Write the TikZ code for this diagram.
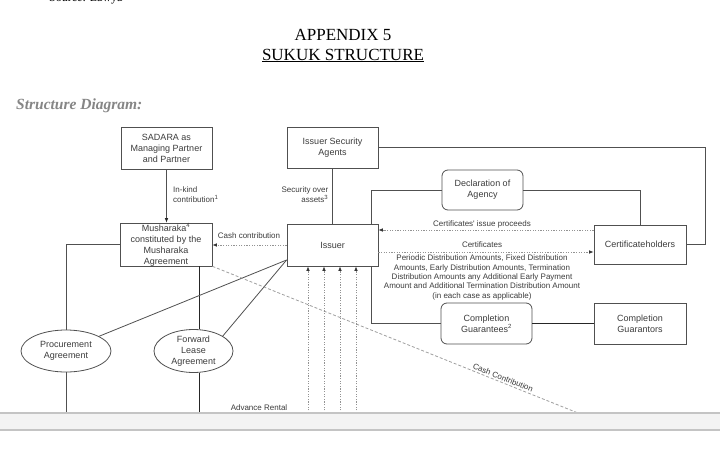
\documentclass[tikz,border=0pt]{standalone}
\usepackage{fontspec}
\setmainfont{Liberation Serif}
\newfontfamily\arialf{Liberation Sans}
\usetikzlibrary{arrows.meta,shapes.geometric}
\definecolor{lc}{HTML}{505050}
\definecolor{tc}{HTML}{3C3C3C}
\definecolor{bandfill}{HTML}{F3F3F3}
\definecolor{bandline}{HTML}{C4C4C4}
\begin{document}
\begin{tikzpicture}[x=1pt,y=-1pt,
  box/.style={draw=lc, line width=0.8pt, align=center, font=\arialf\fontsize{9}{11}\selectfont, text=tc, inner sep=0pt, fill=white},
  rbox/.style={box, rounded corners=6pt},
  oval/.style={box, ellipse},
  lbl/.style={font=\arialf\fontsize{8}{9.3}\selectfont, text=tc, inner sep=0pt},
  conn/.style={draw=lc, line width=0.8pt},
  thickc/.style={draw=black!85, line width=1.7pt},
  dotarr/.style={draw=gray!85, line width=0.7pt, dash pattern=on 1.2pt off 1.4pt, -{Latex[length=4.5pt,width=3.6pt,color=black!80]}},
  solarr/.style={conn, -{Latex[length=4.5pt,width=3.6pt,color=black!85]}},
  dashc/.style={draw=gray!75, line width=0.8pt, dash pattern=on 3pt off 2pt},
]
\useasboundingbox (0,0) rectangle (720,460);
\fill[white] (0,0) rectangle (720,460);

% header texts
\node[anchor=base west, font=\fontsize{12}{14}\selectfont, inner sep=0] (src) at (49,2) {Source: Lawya};
\node[anchor=base, font=\fontsize{17}{20}\selectfont, inner sep=0] (app) at (343,41) {APPENDIX 5};
\node[anchor=base, font=\fontsize{17}{20}\selectfont, inner sep=0] (suk) at (343,60) {\underline{SUKUK STRUCTURE}};
\node[anchor=base west, font=\fontsize{15.5}{18}\selectfont\bfseries\itshape, text=gray!95, inner sep=0] (sd) at (16,110) {Structure Diagram:};

% nodes
\node[box, minimum width=91pt, minimum height=42pt] (sadara) at (166.5,148) {SADARA as\\Managing Partner\\and Partner};
\node[box, minimum width=91pt, minimum height=41pt] (isa) at (332.5,147.5) {Issuer Security\\Agents};
\node[rbox, minimum width=81pt, minimum height=40pt] (decl) at (482.5,190) {Declaration of\\Agency};
\node[box, minimum width=92pt, minimum height=41pt] (mush) at (166,244.5) {Musharaka\textsuperscript{4}\\constituted by the\\Musharaka\\Agreement};
\node[box, minimum width=91pt, minimum height=42pt] (issuer) at (332.5,245) {Issuer};
\node[box, minimum width=92pt, minimum height=39pt] (cert) at (640,244.5) {Certificateholders};
\node[rbox, minimum width=91pt, minimum height=41pt] (cguar) at (486.5,323.5) {Completion\\Guarantees\textsuperscript{2}};
\node[box, minimum width=92pt, minimum height=41pt] (cgrs) at (640,323.5) {Completion\\Guarantors};
\node[oval, minimum width=90pt, minimum height=42pt] (proc) at (66,351) {Procurement\\Agreement};
\node[oval, minimum width=79pt, minimum height=42pt] (fwd) at (193.5,351) {Forward\\Lease\\Agreement};

% coordinates
\coordinate (rc) at (705,147.5);
\coordinate (dl) at (371,190);
\coordinate (cgl) at (371,323.5);
\coordinate (fwdtop) at ([xshift=6pt]fwd.north);
\coordinate (fwdbot) at ([xshift=6pt]fwd.south);
\coordinate (ccend) at (578,413);
\coordinate (isl) at ([yshift=-15pt]issuer.west);

% connectors
\draw[conn] (isa.east) -- (rc) |- (cert.east);
\draw[conn] (decl.west) -- (dl) -- (dl |- issuer.north);
\draw[conn] (decl.east) -| (cert.north);
\draw[conn] (isa.south) -- (issuer.north);
\draw[solarr] (sadara.south) -- (sadara.south |- mush.north);
\draw[dotarr] (issuer.west) -- (issuer.west -| mush.east);
\draw[dotarr] ([yshift=14.5pt]cert.west) -- ([yshift=14.5pt]cert.west -| issuer.east);
\draw[dotarr] ([yshift=-7pt]issuer.east) -- ([yshift=-7pt]issuer.east -| cert.west);
\draw[conn] (issuer.south -| cgl) -- (cgl) -- (cguar.west);
\draw[thickc] (cguar.east) -- (cgrs.west);
\draw[conn] (mush.west) -| (proc.north);
\draw[conn] (proc.south) -- (proc.south |- ccend);
\draw[thickc] (mush.south -| fwdtop) -- (fwdtop);
\draw[thickc] (fwdbot) -- (fwdbot |- ccend);
\draw[conn] (isl) -- (proc.24);
\draw[conn] (isl) -- (fwd.27);
\draw[dashc] (mush.south east) -- (ccend)
  node[pos=0.79, sloped, above=1.5pt, lbl] (cclbl) {Cash Contribution};
\foreach \x in {308,324,340,356} {
  \draw[dotarr] (\x,413) -- (\x,413 |- issuer.south);
}

% labels
\node[lbl, anchor=west, align=left] (ink) at (173,194.5) {In-kind\\contribution\textsuperscript{1}};
\node[lbl, anchor=east, align=right] (soa) at (328.5,194.5) {Security over\\assets\textsuperscript{3}};
\node[lbl] (cashc) at (249,236) {Cash contribution};
\node[lbl] (cip) at (482,224) {Certificates' issue proceeds};
\node[lbl] (certl) at (482,245) {Certificates};
\node[lbl, align=center] (pda) at (482,277.5) {Periodic Distribution Amounts, Fixed Distribution\\Amounts, Early Distribution Amounts, Termination\\Distribution Amounts any Additional Early Payment\\Amount and Additional Termination Distribution Amount\\(in each case as applicable)};
\node[lbl] (adv) at (259,408) {Advance Rental};

% bottom band
\fill[bandfill] (0,413) rectangle (720,430);
\draw[bandline, line width=1.4pt] (0,413) -- (720,413);
\draw[bandline, line width=1.4pt] (0,430) -- (720,430);
\end{tikzpicture}
\end{document}
